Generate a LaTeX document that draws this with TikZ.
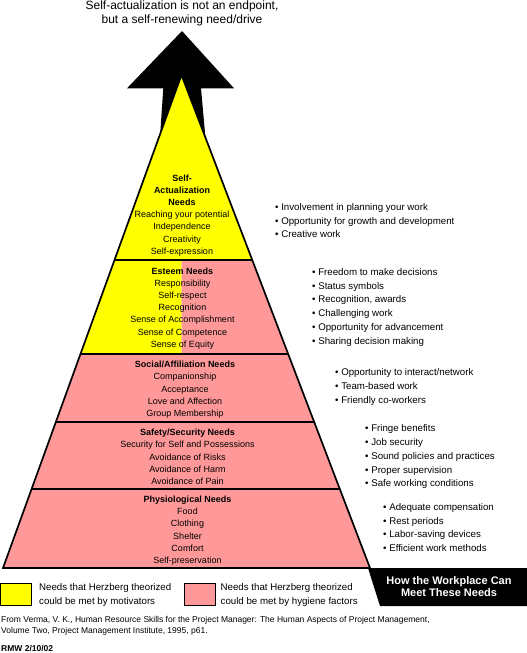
\documentclass[tikz,border=0pt]{standalone}
\usepackage{fontspec}
\setmainfont{Liberation Sans}
\definecolor{motiv}{HTML}{FFFF00}
\definecolor{hyg}{HTML}{FF9999}
\newcommand\bl{\strut\textbullet\ }
\begin{document}
\begin{tikzpicture}[x=1pt,y=-1pt,
  lvltext/.style={align=center, inner sep=0pt, font=\fontsize{9}{12.15}\selectfont},
  bullets/.style={align=left, inner sep=0pt, anchor=west, font=\fontsize{9.7}{13.8}\selectfont},
  legtext/.style={align=left, inner sep=0pt, anchor=west, font=\fontsize{9.7}{14}\selectfont},
  legbox/.style={draw=black, line width=0.9pt, minimum width=31pt, minimum height=22pt, inner sep=0pt},
  sepline/.style={line width=1.4pt},
  outline/.style={line width=1.7pt, line join=miter}]
\useasboundingbox (0,0) rectangle (527,653);

% top caption
\node[align=center, inner sep=0pt, font=\fontsize{12}{14}\selectfont] (cap) at (182,13.4)
  {\strut Self-actualization is not an endpoint,\\but a self-renewing need/drive\strut};

% arrow
\fill[black] (127,88.3) -- (182,31) -- (234,88.3) -- (201,88.3) -- (205.4,137.4)
  -- (160.2,134) -- (163.3,88.3) -- cycle;

% pyramid corners
\coordinate (apex) at (181.5,75);
\coordinate (bl) at (3,568);
\coordinate (br) at (370,568);

% layer fills
\fill[motiv] (apex) -- (252.2,260) -- (114.5,260) -- cycle;
\fill[motiv] (114.5,260) -- (181.5,260) -- (181.5,354) -- (80.5,354) -- cycle;
\fill[hyg] (181.5,260) -- (252.2,260) -- (288.2,354) -- (181.5,354) -- cycle;
\fill[hyg] (80.5,354) -- (288.2,354) -- (314.2,422) -- (55.9,422) -- cycle;
\fill[hyg] (55.9,422) -- (314.2,422) -- (339.8,489) -- (31.6,489) -- cycle;
\fill[hyg] (31.6,489) -- (339.8,489) -- (br) -- (bl) -- cycle;

% separators
\draw[sepline] (114.5,260) -- (252.2,260);
\draw[sepline] (80.5,354) -- (288.2,354);
\draw[sepline] (55.9,422) -- (314.2,422);
\draw[sepline] (31.6,489) -- (339.8,489);

% outline
\draw[outline] (bl) -- (apex) -- (br) -- cycle;

% level texts
\node[lvltext] (self) at (182,215.4)
  {\strut\textbf{Self-}\\\textbf{Actualization}\\\textbf{Needs}\\Reaching your potential\\Independence\\Creativity\\Self-expression\strut};
\node[lvltext] (esteem) at (182.5,308.3)
  {\strut\textbf{Esteem Needs}\\Responsibility\\Self-respect\\Recognition\\Sense of Accomplishment\\Sense of Competence\\Sense of Equity\strut};
\node[lvltext] (social) at (185,389.6)
  {\strut\textbf{Social/Affiliation Needs}\\Companionship\\Acceptance\\Love and Affection\\Group Membership\strut};
\node[lvltext] (safety) at (187.5,457.6)
  {\strut\textbf{Safety/Security Needs}\\Security for Self and Possessions\\Avoidance of Risks\\Avoidance of Harm\\Avoidance of Pain\strut};
\node[lvltext] (physio) at (187.5,530.6)
  {\strut\textbf{Physiological Needs}\\Food\\Clothing\\Shelter\\Comfort\\Self-preservation\strut};

% workplace lists
\node[bullets] (g1) at (275,221.3)
  {\bl Involvement in planning your work\\\bl Opportunity for growth and development\\\bl Creative work};
\node[bullets] (g2) at (312,307)
  {\bl Freedom to make decisions\\\bl Status symbols\\\bl Recognition, awards\\\bl Challenging work\\\bl Opportunity for advancement\\\bl Sharing decision making};
\node[bullets] (g3) at (335,386.6)
  {\bl Opportunity to interact/network\\\bl Team-based work\\\bl Friendly co-workers};
\node[bullets] (g4) at (365,456.6)
  {\bl Fringe benefits\\\bl Job security\\\bl Sound policies and practices\\\bl Proper supervision\\\bl Safe working conditions};
\node[bullets] (g5) at (383,528.3)
  {\bl Adequate compensation\\\bl Rest periods\\\bl Labor-saving devices\\\bl Efficient work methods};

% legend
\node[legbox, fill=motiv] (ly) at (16.4,594) {};
\node[legtext] (lyt) at (39,594.4) {\strut Needs that Herzberg theorized\\could be met by motivators\strut};
\node[legbox, fill=hyg] (lp) at (199.5,594) {};
\node[legtext] (lpt) at (220.5,594.4) {\strut Needs that Herzberg theorized\\could be met by hygiene factors\strut};

% black title box
\fill[black] (368,568) -- (527,568) -- (527,606) -- (380,606) -- cycle;
\node[align=center, inner sep=0pt, text=white, font=\fontsize{11}{12}\bfseries\selectfont] (how) at (449,588.1)
  {\strut How the Workplace Can\\Meet These Needs\strut};

% citation
\node[align=left, inner sep=0pt, anchor=west, font=\fontsize{8.5}{10.6}\selectfont] (cite) at (1,626.1)
  {\strut From Verma, V. K., Human Resource Skills for the Project Manager: The Human Aspects of Project Management,\\Volume Two, Project Management Institute, 1995, p61.\strut};
\node[inner sep=0pt, anchor=west, font=\fontsize{8.5}{10}\bfseries\selectfont] (rmw) at (1,648.3) {RMW 2/10/02};
\end{tikzpicture}
\end{document}
